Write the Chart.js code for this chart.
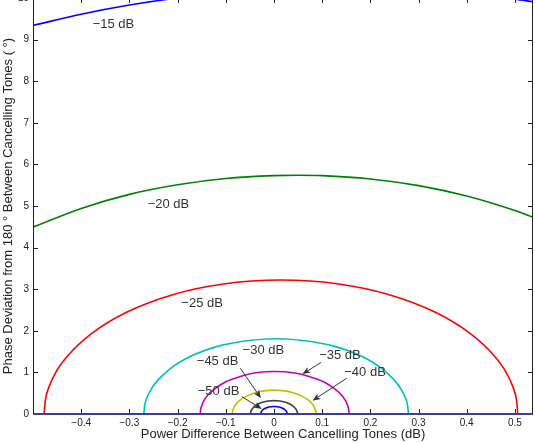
<!DOCTYPE html>
<html>
<head>
<meta charset="utf-8">
<script src="https://cdn.jsdelivr.net/npm/chart.js@4/dist/chart.umd.min.js"></script>
<style>
  html, body { margin:0; padding:0; background:#fff; overflow:hidden; width:535px; height:443px; }
  #wrap { position:absolute; left:0; top:-12px; width:535px; height:455px; }
</style>
</head>
<body>
<div id="wrap"><canvas id="c" width="535" height="455"></canvas></div>
<script>
// ---- Data ----
const xTickValues = [-0.4, -0.3, -0.2, -0.1, 0, 0.1, 0.2, 0.3, 0.4, 0.5];
const yTickValues = [0, 1, 2, 3, 4, 5, 6, 7, 8, 9, 10];
const xLabel = 'Power Difference Between Cancelling Tones (dB)';
const yLabel = 'Phase Deviation from 180 \u00B0 Between Cancelling Tones ( \u00B0)';

const levelNames = ['\u221215 dB', '\u221220 dB', '\u221225 dB', '\u221230 dB', '\u221235 dB', '\u221240 dB', '\u221245 dB', '\u221250 dB'];

const db15X = [-0.5, -0.4, -0.3, -0.2, -0.1, 0, 0.1, 0.2, 0.3, 0.4, 0.5, 0.5375];
const db15Y = [9.34, 9.61, 9.83, 10.00, 10.12, 10.20, 10.24, 10.24, 10.19, 10.10, 9.97, 9.91];

const db20X = [-0.5, -0.4, -0.3, -0.2, -0.1, 0, 0.05, 0.1, 0.2, 0.3, 0.4, 0.5, 0.5375];
const db20Y = [4.49, 4.94, 5.28, 5.51, 5.66, 5.73, 5.74, 5.73, 5.65, 5.49, 5.24, 4.89, 4.73];

const db25X = [-0.477, -0.4745, -0.4672, -0.4524, -0.4279, -0.3787, -0.3050, -0.2067, -0.1084, 0.0145, 0.1374, 0.2357, 0.3340, 0.4077, 0.4569, 0.4814, 0.4962, 0.5035, 0.506];
const db25Y = [0, 0.32, 0.64, 1.01, 1.40, 1.93, 2.45, 2.88, 3.12, 3.22, 3.12, 2.88, 2.45, 1.93, 1.40, 1.01, 0.64, 0.32, 0];

const db30X = [-0.270, -0.2686, -0.2645, -0.2563, -0.2426, -0.2151, -0.1739, -0.1190, -0.0641, 0.0045, 0.0731, 0.1280, 0.1829, 0.2241, 0.2516, 0.2653, 0.2735, 0.2776, 0.279];
const db30Y = [0, 0.18, 0.36, 0.57, 0.79, 1.09, 1.38, 1.62, 1.75, 1.81, 1.75, 1.62, 1.38, 1.09, 0.79, 0.57, 0.36, 0.18, 0];

const db35X = [-0.153, -0.1522, -0.1499, -0.1453, -0.1376, -0.1221, -0.0989, -0.0680, -0.0371, 0.0015, 0.0401, 0.0710, 0.1019, 0.1251, 0.1406, 0.1483, 0.1529, 0.1552, 0.156];
const db35Y = [0, 0.10, 0.20, 0.32, 0.45, 0.61, 0.78, 0.91, 0.99, 1.02, 0.99, 0.91, 0.78, 0.61, 0.45, 0.32, 0.20, 0.10, 0];

const db40X = [-0.0864, -0.0859, -0.0846, -0.0820, -0.0777, -0.0690, -0.0560, -0.0386, -0.0212, 0.0005, 0.0222, 0.0396, 0.0570, 0.0700, 0.0787, 0.0830, 0.0856, 0.0869, 0.0873];
const db40Y = [0, 0.057, 0.114, 0.179, 0.250, 0.344, 0.435, 0.512, 0.555, 0.573, 0.555, 0.512, 0.435, 0.344, 0.250, 0.179, 0.114, 0.057, 0];

const db45X = [-0.0488, -0.0486, -0.0478, -0.0464, -0.0439, -0.0390, -0.0317, -0.0220, -0.0122, 0, 0.0122, 0.0220, 0.0317, 0.0390, 0.0439, 0.0464, 0.0478, 0.0486, 0.0488];
const db45Y = [0, 0.032, 0.064, 0.101, 0.140, 0.193, 0.245, 0.288, 0.312, 0.322, 0.312, 0.288, 0.245, 0.193, 0.140, 0.101, 0.064, 0.032, 0];

const db50X = [-0.0274, -0.0273, -0.0269, -0.0260, -0.0247, -0.0219, -0.0178, -0.0123, -0.0069, 0, 0.0069, 0.0123, 0.0178, 0.0219, 0.0247, 0.0260, 0.0269, 0.0273, 0.0274];
const db50Y = [0, 0.018, 0.036, 0.057, 0.079, 0.109, 0.138, 0.162, 0.175, 0.181, 0.175, 0.162, 0.138, 0.109, 0.079, 0.057, 0.036, 0.018, 0];

// label anchor positions (data coordinates)
const labelX = [-0.333, -0.219, -0.149, -0.022, 0.137, 0.189, -0.117, -0.115];
const labelY = [9.37, 5.04, 2.67, 1.52, 1.40, 0.99, 1.26, 0.55];
// arrows: from (start) to (head), data coordinates, for -35, -40, -45, -50
const arrowFromX = [0.098, 0.151, -0.070, -0.067];
const arrowFromY = [1.24, 0.86, 1.10, 0.42];
const arrowToX = [0.059, 0.080, -0.027, -0.025];
const arrowToY = [0.96, 0.32, 0.38, 0.12];

// ---- Styles ----
const seriesX = [db15X, db20X, db25X, db30X, db35X, db40X, db45X, db50X];
const seriesY = [db15Y, db20Y, db25Y, db30Y, db35Y, db40Y, db45Y, db50Y];
const colors = ['#0000ff', '#008000', '#ff0000', '#00bfbf', '#bf00bf', '#bfbf00', '#404040', '#0000ff'];

const FONT = "'Liberation Sans', Arial, Helvetica, sans-serif";
Chart.defaults.font.family = FONT;
Chart.defaults.color = '#222';

const datasets = seriesX.map((xs, i) => ({
  label: levelNames[i],
  data: xs.map((x, j) => ({ x: x, y: seriesY[i][j] })),
  borderColor: colors[i],
  backgroundColor: colors[i],
  borderWidth: 1.6,
  pointRadius: 0,
  fill: false,
  cubicInterpolationMode: 'monotone'
}));

const fmt = v => (v < 0 ? '\u2212' + String(Math.abs(v)) : String(v));

const framePlugin = {
  id: 'frame',
  afterDatasetsDraw(chart) {
    const ctx = chart.ctx;
    const a = chart.chartArea;
    const xs = chart.scales.x, ys = chart.scales.y;
    ctx.save();
    ctx.strokeStyle = '#222';
    ctx.lineWidth = 1;
    ctx.beginPath();
    ctx.moveTo(Math.round(a.left) + 0.5, a.bottom);
    ctx.lineTo(Math.round(a.left) + 0.5, a.top);
    ctx.lineTo(Math.round(a.right) - 0.5, a.top);
    ctx.lineTo(Math.round(a.right) - 0.5, a.bottom);
    ctx.stroke();
    const tl = 5;
    ctx.beginPath();
    xTickValues.forEach(v => {
      const p = Math.round(xs.getPixelForValue(v)) + 0.5;
      ctx.moveTo(p, a.bottom); ctx.lineTo(p, a.bottom - tl);
      ctx.moveTo(p, a.top); ctx.lineTo(p, a.top + tl);
    });
    yTickValues.forEach(v => {
      const p = Math.round(ys.getPixelForValue(v)) + 0.5;
      ctx.moveTo(a.left, p); ctx.lineTo(a.left + tl, p);
      ctx.moveTo(a.right, p); ctx.lineTo(a.right - tl, p);
    });
    ctx.stroke();
    ctx.strokeStyle = '#3d3d9a';
    ctx.lineWidth = 2;
    ctx.beginPath();
    ctx.moveTo(a.left, a.bottom);
    ctx.lineTo(a.right, a.bottom);
    ctx.stroke();

    ctx.fillStyle = '#333';
    ctx.font = '13px ' + FONT;
    ctx.textAlign = 'center';
    ctx.textBaseline = 'middle';
    levelNames.forEach((t, i) => {
      ctx.fillText(t, xs.getPixelForValue(labelX[i]), ys.getPixelForValue(labelY[i]));
    });
    ctx.strokeStyle = '#333';
    ctx.lineWidth = 1;
    arrowFromX.forEach((fx, i) => {
      const x1 = xs.getPixelForValue(fx), y1 = ys.getPixelForValue(arrowFromY[i]);
      const x2 = xs.getPixelForValue(arrowToX[i]), y2 = ys.getPixelForValue(arrowToY[i]);
      const ang = Math.atan2(y2 - y1, x2 - x1);
      const L = 8, W = 3.2, back = 6;
      ctx.beginPath();
      ctx.moveTo(x1, y1);
      ctx.lineTo(x2 - Math.cos(ang) * back, y2 - Math.sin(ang) * back);
      ctx.stroke();
      ctx.beginPath();
      ctx.moveTo(x2, y2);
      ctx.lineTo(x2 - Math.cos(ang) * L + Math.sin(ang) * W, y2 - Math.sin(ang) * L - Math.cos(ang) * W);
      ctx.lineTo(x2 - Math.cos(ang) * back, y2 - Math.sin(ang) * back);
      ctx.lineTo(x2 - Math.cos(ang) * L - Math.sin(ang) * W, y2 - Math.sin(ang) * L + Math.cos(ang) * W);
      ctx.closePath();
      ctx.fillStyle = '#333';
      ctx.fill();
    });
    ctx.restore();
  }
};

new Chart(document.getElementById('c'), {
  type: 'line',
  data: { datasets: datasets },
  options: {
    responsive: false,
    animation: false,
    events: [],
    layout: { padding: { top: 10, right: 2, left: 0, bottom: 0 } },
    plugins: { legend: { display: false }, tooltip: { enabled: false } },
    scales: {
      x: {
        type: 'linear',
        min: -0.5,
        max: 0.5375,
        afterBuildTicks: s => { s.ticks = xTickValues.map(v => ({ value: v })); },
        afterFit: s => { s.height = 29; },
        grid: { display: false, drawTicks: false },
        border: { display: false },
        ticks: { padding: 3, font: { size: 10 }, color: '#222', maxRotation: 0, autoSkip: false, callback: v => fmt(v) },
        title: { display: true, text: xLabel, font: { size: 13 }, color: '#222', padding: { top: 1, bottom: 1 } }
      },
      y: {
        type: 'linear',
        min: 0,
        max: 10,
        afterBuildTicks: s => { s.ticks = yTickValues.map(v => ({ value: v })); },
        afterFit: s => { s.width = 33; },
        grid: { display: false, drawTicks: false },
        border: { display: false },
        ticks: { padding: 4, font: { size: 10 }, color: '#222', autoSkip: false, callback: v => fmt(v) },
        title: { display: true, text: yLabel, font: { size: 13 }, color: '#222', padding: { top: 1, bottom: 1 } }
      }
    }
  },
  plugins: [framePlugin]
});
</script>
</body>
</html>
